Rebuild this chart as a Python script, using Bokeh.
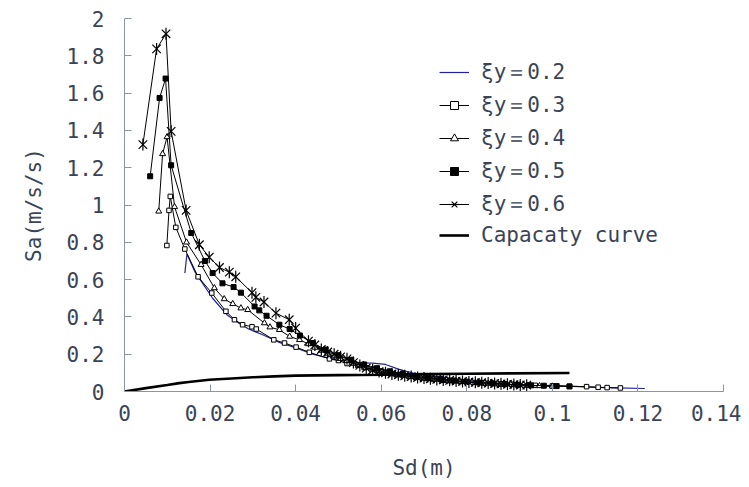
import math
from bokeh.plotting import figure
from bokeh.models import Range1d, FixedTicker, Legend, LegendItem
from bokeh.embed import file_html
from bokeh.resources import INLINE

# ---- tick labels ----
x_ticks = [0, 0.02, 0.04, 0.06, 0.08, 0.1, 0.12, 0.14]
x_tick_labels = ["0", "0.02", "0.04", "0.06", "0.08", "0.1", "0.12", "0.14"]
y_ticks = [0, 0.2, 0.4, 0.6, 0.8, 1, 1.2, 1.4, 1.6, 1.8, 2]
y_tick_labels = ["0", "0.2", "0.4", "0.6", "0.8", "1", "1.2", "1.4", "1.6", "1.8", "2"]

# ---- series: ξy = 0.2 (blue line) ----
sd_02 = [0.0141, 0.0146, 0.0165, 0.0206, 0.0240, 0.0261, 0.0290, 0.0323, 0.0360,
         0.0401, 0.0440, 0.0480, 0.0520, 0.0550, 0.0580, 0.0610, 0.0640, 0.0674,
         0.0710, 0.0744, 0.0800, 0.0850, 0.0900, 0.0950, 0.1000, 0.1050, 0.1100,
         0.1150, 0.1216]
sa_02 = [0.635, 0.737, 0.640, 0.500, 0.410, 0.376, 0.335, 0.304, 0.265,
         0.233, 0.200, 0.178, 0.160, 0.154, 0.152, 0.145, 0.120, 0.099,
         0.085, 0.077, 0.060, 0.048, 0.040, 0.035, 0.031, 0.027, 0.022,
         0.019, 0.016]

# ---- ξy = 0.3 (open squares) ----
sd_03 = [0.0099, 0.0104, 0.0107, 0.0120, 0.0141, 0.0172, 0.0204, 0.0237, 0.0257,
         0.0276, 0.0298, 0.0308, 0.0349, 0.0374, 0.0401, 0.0432, 0.0479, 0.0500,
         0.0520, 0.0545, 0.0560, 0.0585, 0.0600, 0.0625, 0.0640, 0.0665, 0.0680,
         0.0705, 0.0720, 0.0745, 0.0760, 0.0785, 0.0800, 0.0825, 0.0840, 0.0865,
         0.0880, 0.0905, 0.0920, 0.0945, 0.0960, 0.1000, 0.1040, 0.1080, 0.1107,
         0.1128, 0.1159]
sa_03 = [0.783, 0.971, 1.046, 0.880, 0.764, 0.615, 0.528, 0.430, 0.385,
         0.358, 0.347, 0.335, 0.277, 0.260, 0.238, 0.210, 0.175, 0.166,
         0.150, 0.140, 0.128, 0.118, 0.110, 0.096, 0.090, 0.081, 0.075,
         0.070, 0.065, 0.060, 0.058, 0.054, 0.050, 0.048, 0.045, 0.042,
         0.040, 0.039, 0.037, 0.035, 0.033, 0.030, 0.028, 0.026, 0.023,
         0.021, 0.019]

# ---- ξy = 0.4 (open triangles) ----
sd_04 = [0.0080, 0.0089, 0.00995, 0.0117, 0.0145, 0.0179, 0.0210, 0.0233, 0.0253,
         0.0272, 0.0288, 0.0327, 0.0340, 0.0362, 0.0386, 0.0409, 0.0430, 0.0445,
         0.0460, 0.0475, 0.0490, 0.0505, 0.0520, 0.0535, 0.0550, 0.0565, 0.0580,
         0.0595, 0.0610, 0.0625, 0.0640, 0.0655, 0.0670, 0.0685, 0.0700, 0.0715,
         0.0730, 0.0745, 0.0760, 0.0775, 0.0790, 0.0820, 0.0850, 0.0880, 0.0910,
         0.0940, 0.0970, 0.1000]
sa_04 = [0.966, 1.274, 1.365, 0.990, 0.800, 0.680, 0.555, 0.496, 0.470,
         0.447, 0.438, 0.367, 0.345, 0.331, 0.295, 0.277, 0.255, 0.236,
         0.220, 0.204, 0.190, 0.176, 0.165, 0.150, 0.140, 0.128, 0.120,
         0.111, 0.105, 0.097, 0.090, 0.086, 0.080, 0.074, 0.070, 0.068,
         0.065, 0.061, 0.058, 0.055, 0.052, 0.047, 0.043, 0.039, 0.035,
         0.032, 0.030, 0.028]

# ---- ξy = 0.5 (filled squares) ----
sd_05 = [0.0060, 0.0082, 0.0096, 0.0109, 0.0156, 0.0188, 0.0206, 0.0229, 0.0255,
         0.0272, 0.0304, 0.0315, 0.0332, 0.0362, 0.0386, 0.0410, 0.0440, 0.0470,
         0.0500, 0.0530, 0.0560, 0.0590, 0.0620, 0.0650, 0.0680, 0.0710, 0.0740,
         0.0770, 0.0800, 0.0830, 0.0860, 0.0890, 0.0920, 0.0950, 0.0980, 0.1010,
         0.1040]
sa_05 = [1.154, 1.574, 1.678, 1.213, 0.850, 0.700, 0.635, 0.580, 0.560,
         0.530, 0.456, 0.435, 0.406, 0.358, 0.335, 0.300, 0.260, 0.225,
         0.195, 0.170, 0.145, 0.125, 0.108, 0.095, 0.083, 0.074, 0.066,
         0.059, 0.053, 0.048, 0.044, 0.040, 0.036, 0.033, 0.031, 0.029,
         0.027]

# ---- ξy = 0.6 (stars) ----
sd_06 = [0.0043, 0.0075, 0.0097, 0.0109, 0.0144, 0.0175, 0.0198, 0.0222, 0.0245,
         0.0260, 0.0298, 0.0307, 0.0326, 0.0354, 0.0385, 0.0400, 0.0430, 0.0445,
         0.0460, 0.0475, 0.0490, 0.0505, 0.0520, 0.0535, 0.0550, 0.0565, 0.0580,
         0.0595, 0.0610, 0.0625, 0.0640, 0.0655, 0.0670, 0.0685, 0.0700, 0.0715,
         0.0730, 0.0745, 0.0760, 0.0775, 0.0790, 0.0805, 0.0820, 0.0835, 0.0850,
         0.0865, 0.0880, 0.0895, 0.0910, 0.0925, 0.0940]
sa_06 = [1.324, 1.837, 1.918, 1.395, 0.971, 0.787, 0.720, 0.665, 0.640,
         0.615, 0.530, 0.505, 0.480, 0.420, 0.385, 0.340, 0.270, 0.250,
         0.225, 0.212, 0.200, 0.186, 0.175, 0.155, 0.140, 0.125, 0.115,
         0.107, 0.100, 0.094, 0.090, 0.084, 0.080, 0.075, 0.072, 0.068,
         0.065, 0.062, 0.060, 0.056, 0.054, 0.051, 0.049, 0.047, 0.045,
         0.043, 0.041, 0.039, 0.037, 0.035, 0.034]

# ---- capacity curve ----
sd_cap = [0, 0.005, 0.010, 0.0128, 0.015, 0.0198, 0.025, 0.030, 0.035, 0.040,
          0.050, 0.060, 0.070, 0.080, 0.090, 0.104]
sa_cap = [0, 0.018, 0.035, 0.045, 0.051, 0.063, 0.070, 0.076, 0.081, 0.085,
          0.088, 0.090, 0.093, 0.095, 0.097, 0.099]

FONT = "DejaVu Sans Mono"
TXT = "#3a4456"
AX = "#8a94a6"
FS = "21px"

p = figure(width=741, height=483, output_backend="svg", toolbar_location=None,
           x_range=Range1d(0, 0.14), y_range=Range1d(0, 2),
           min_border_left=124, min_border_right=18, min_border_top=18,
           min_border_bottom=92, background_fill_color="white")
p.outline_line_color = None
p.grid.visible = False

for ax in (p.xaxis[0], p.yaxis[0]):
    ax.axis_line_color = AX
    ax.major_tick_line_color = AX
    ax.major_tick_in = 7
    ax.major_tick_out = 0
    ax.minor_tick_line_color = None
    ax.major_label_text_font = FONT
    ax.major_label_text_font_size = FS
    ax.major_label_text_color = TXT
    ax.axis_label_text_font = FONT
    ax.axis_label_text_font_size = FS
    ax.axis_label_text_color = TXT
    ax.axis_label_text_font_style = "normal"

p.xaxis.ticker = FixedTicker(ticks=x_ticks)
p.xaxis.major_label_overrides = dict(zip(x_ticks, x_tick_labels))
p.yaxis.ticker = FixedTicker(ticks=y_ticks)
p.yaxis.major_label_overrides = dict(zip(y_ticks, y_tick_labels))
p.xaxis.axis_label = "Sd(m)"
p.yaxis.axis_label = "Sa(m/s/s)"
p.xaxis.major_label_standoff = 13
p.yaxis.major_label_standoff = 20
p.xaxis.axis_label_standoff = 32
p.yaxis.axis_label_standoff = 18

items = []
r = p.line(sd_02, sa_02, line_color="#2222a0", line_width=1.2)
items.append(LegendItem(label="ξy＝0.2", renderers=[r]))

r1 = p.line(sd_03, sa_03, line_color="black", line_width=1)
r2 = p.scatter(sd_03, sa_03, marker="square", size=4.5, line_color="black",
               fill_color="white", line_width=1)
items.append(LegendItem(label="ξy＝0.3", renderers=[r1, r2]))

r1 = p.line(sd_04, sa_04, line_color="black", line_width=1)
r2 = p.scatter(sd_04, sa_04, marker="triangle", size=6, line_color="black",
               fill_color="white", line_width=1)
items.append(LegendItem(label="ξy＝0.4", renderers=[r1, r2]))

r1 = p.line(sd_05, sa_05, line_color="black", line_width=1)
r2 = p.scatter(sd_05, sa_05, marker="square", size=5, line_color="black",
               fill_color="black", line_width=1)
items.append(LegendItem(label="ξy＝0.5", renderers=[r1, r2]))

r1 = p.line(sd_06, sa_06, line_color="black", line_width=1)
r2 = p.scatter(sd_06, sa_06, marker="x", size=12, line_color="black", line_width=1.2)
r3 = p.scatter(sd_06, sa_06, marker="dash", angle=math.pi / 2, size=12,
               line_color="black", line_width=1.2)
items.append(LegendItem(label="ξy＝0.6", renderers=[r1, r2, r3]))

r = p.line(sd_cap, sa_cap, line_color="black", line_width=2.6)
items.append(LegendItem(label="Capacaty curve", renderers=[r]))

legend = Legend(items=items, location=(315, 144), padding=0, margin=0,
                spacing=5, glyph_width=30, glyph_height=20, label_height=20,
                label_standoff=12, label_text_font=FONT, label_text_font_size=FS,
                label_text_color=TXT, border_line_color=None,
                background_fill_alpha=0)
p.add_layout(legend)

open("out.html", "w").write(file_html(p, INLINE))
